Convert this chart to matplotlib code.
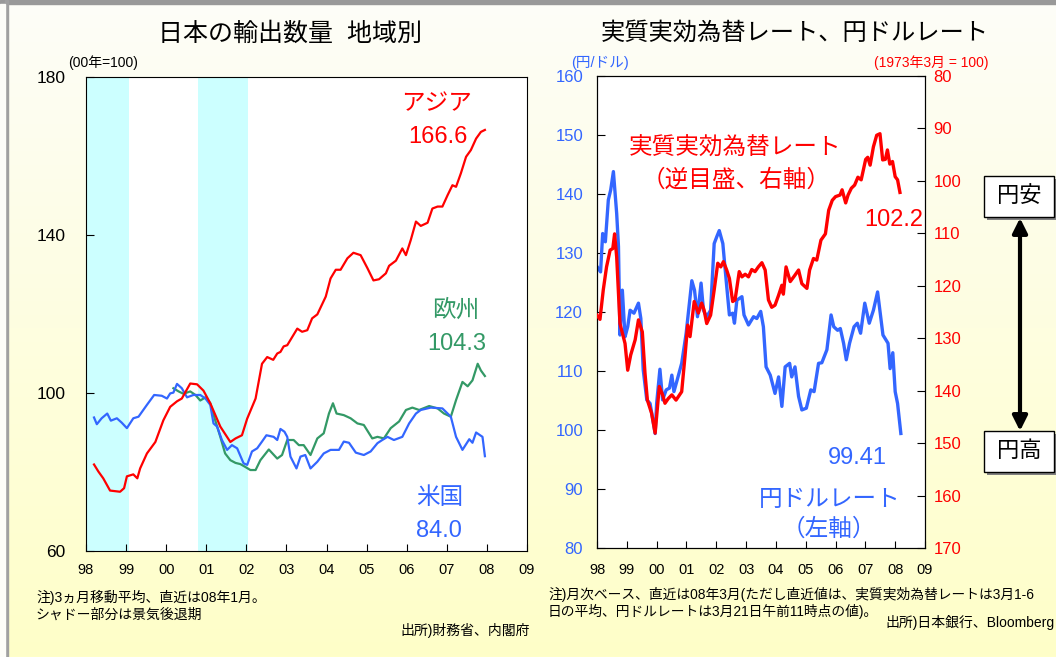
import numpy as np
import matplotlib
matplotlib.use("Agg")
import matplotlib.pyplot as plt
from matplotlib.patches import Rectangle

plt.rcParams['font.family'] = ['Liberation Sans', 'Noto Sans CJK JP', 'DejaVu Sans']

# 左図: 日本の輸出数量 地域別 (00年=100)
asia_t = [1998.20, 1998.31, 1998.43, 1998.60, 1998.85, 1998.95, 1999.02, 1999.18, 1999.28, 1999.35,
          1999.52, 1999.73, 1999.93, 2000.10, 2000.27, 2000.39, 2000.60, 2000.77, 2000.93, 2001.10,
          2001.35, 2001.60, 2001.73, 2001.89, 2002.02, 2002.23, 2002.39, 2002.52, 2002.67, 2002.77,
          2002.85, 2002.93, 2003.02, 2003.27, 2003.39, 2003.52, 2003.64, 2003.77, 2003.98, 2004.10,
          2004.23, 2004.35, 2004.52, 2004.67, 2004.85, 2005.02, 2005.17, 2005.31, 2005.48, 2005.56,
          2005.73, 2005.89, 2005.98, 2006.10, 2006.23, 2006.35, 2006.52, 2006.64, 2006.77, 2006.89,
          2007.02, 2007.14, 2007.23, 2007.35, 2007.48, 2007.60, 2007.73, 2007.85, 2007.95]
asia_v = [81.9, 80.1, 78.4, 75.3, 75.0, 75.9, 78.9, 79.4, 78.4, 80.9,
          84.7, 87.6, 93.1, 96.5, 97.9, 98.6, 102.4, 102.2, 100.6, 97.4,
          91.5, 87.6, 88.5, 89.3, 93.5, 98.6, 107.4, 109.1, 108.4, 110.0,
          110.4, 111.8, 112.1, 116.3, 115.5, 115.9, 118.9, 119.9, 124.4, 129.0,
          131.2, 131.2, 134.1, 135.5, 134.9, 131.6, 128.5, 128.8, 130.3, 132.2,
          133.5, 136.6, 134.9, 138.7, 143.4, 142.3, 143.1, 146.7, 147.2, 147.2,
          150.1, 152.6, 152.2, 155.6, 159.8, 161.5, 164.4, 166.1, 166.6]

us_t = [1998.20, 1998.27, 1998.39, 1998.53, 1998.62, 1998.77, 1998.89, 1999.02, 1999.18, 1999.31,
        1999.52, 1999.70, 1999.89, 2000.02, 2000.10, 2000.18, 2000.27, 2000.39, 2000.52, 2000.68,
        2000.85, 2000.98, 2001.10, 2001.18, 2001.27, 2001.39, 2001.52, 2001.64, 2001.77, 2001.93,
        2002.02, 2002.14, 2002.27, 2002.39, 2002.50, 2002.68, 2002.77, 2002.85, 2002.95, 2003.02,
        2003.10, 2003.25, 2003.35, 2003.47, 2003.60, 2003.77, 2003.93, 2004.10, 2004.31, 2004.43,
        2004.56, 2004.73, 2004.93, 2005.10, 2005.27, 2005.39, 2005.52, 2005.68, 2005.89, 2006.06,
        2006.23, 2006.35, 2006.60, 2006.89, 2007.10, 2007.23, 2007.39, 2007.56, 2007.64, 2007.73,
        2007.89, 2007.95]
us_v = [93.8, 92.1, 93.6, 94.8, 93.0, 93.6, 92.5, 91.1, 93.6, 94.0,
        97.0, 99.5, 99.3, 98.6, 99.9, 100.1, 102.3, 101.2, 98.9, 99.5,
        99.5, 98.6, 97.0, 92.3, 91.5, 88.1, 85.6, 86.8, 86.0, 82.2,
        81.8, 85.2, 86.0, 87.7, 89.3, 88.9, 88.1, 90.9, 90.2, 88.9,
        83.9, 80.9, 83.9, 84.3, 80.9, 82.6, 84.7, 85.6, 85.6, 87.7,
        87.4, 84.9, 84.3, 85.2, 87.3, 88.1, 88.9, 88.1, 88.9, 92.3,
        94.8, 95.7, 96.3, 96.1, 94.0, 88.9, 85.6, 88.3, 87.4, 90.0,
        88.9, 84.0]

eu_t = [2000.18, 2000.31, 2000.43, 2000.60, 2000.73, 2000.85, 2000.98, 2001.10, 2001.22, 2001.35,
        2001.47, 2001.60, 2001.73, 2001.85, 2001.97, 2002.10, 2002.23, 2002.35, 2002.56, 2002.77,
        2002.89, 2003.02, 2003.18, 2003.31, 2003.43, 2003.60, 2003.77, 2003.93, 2004.06, 2004.16,
        2004.25, 2004.43, 2004.60, 2004.77, 2004.93, 2005.14, 2005.27, 2005.43, 2005.60, 2005.81,
        2005.98, 2006.14, 2006.31, 2006.56, 2006.77, 2006.93, 2007.10, 2007.23, 2007.39, 2007.52,
        2007.64, 2007.77, 2007.85, 2007.95]
eu_v = [101.2, 100.4, 99.8, 100.4, 99.5, 98.1, 98.9, 97.4, 93.2, 88.9,
        84.7, 83.0, 82.3, 82.0, 81.3, 80.5, 80.5, 83.0, 85.7, 83.4,
        84.3, 88.1, 88.1, 86.8, 86.8, 84.3, 88.5, 89.8, 94.8, 97.4,
        94.8, 94.4, 93.6, 92.3, 91.9, 88.5, 88.9, 88.5, 91.1, 92.8,
        95.7, 96.3, 95.7, 96.7, 96.1, 94.8, 94.0, 98.2, 102.8, 101.7,
        103.2, 107.4, 105.7, 104.3]

recessions = [(1997.5, 1999.08), (2000.8, 2002.05)]

# 右図: 円ドルレート (左軸) と 実質実効為替レート (右軸, 逆目盛)
usd_t = [1998.00, 1998.12, 1998.19, 1998.28, 1998.38, 1998.46, 1998.55, 1998.66, 1998.72, 1998.77,
         1998.85, 1998.94, 1999.03, 1999.11, 1999.24, 1999.39, 1999.47, 1999.55, 1999.67, 1999.78,
         1999.95, 2000.00, 2000.11, 2000.20, 2000.32, 2000.43, 2000.51, 2000.58, 2000.69, 2000.84,
         2000.99, 2001.18, 2001.27, 2001.37, 2001.49, 2001.57, 2001.68, 2001.81, 2001.93, 2002.02,
         2002.10, 2002.22, 2002.32, 2002.44, 2002.55, 2002.61, 2002.69, 2002.86, 2002.93, 2003.08,
         2003.25, 2003.36, 2003.49, 2003.58, 2003.67, 2003.81, 2003.97, 2004.09, 2004.20, 2004.31,
         2004.46, 2004.53, 2004.64, 2004.76, 2004.87, 2005.02, 2005.17, 2005.28, 2005.43, 2005.54,
         2005.71, 2005.85, 2005.94, 2006.07, 2006.16, 2006.27, 2006.36, 2006.47, 2006.62, 2006.73,
         2006.84, 2006.98, 2007.13, 2007.27, 2007.41, 2007.59, 2007.76, 2007.83, 2007.92, 2008.00,
         2008.08, 2008.19]
usd_v = [127.7, 126.8, 133.3, 131.9, 139.0, 140.7, 143.8, 136.7, 131.1, 116.1,
         123.7, 115.8, 117.5, 120.3, 119.8, 121.5, 118.9, 110.2, 105.1, 104.5,
         99.4, 104.5, 110.3, 105.1, 106.8, 107.1, 109.3, 106.5, 108.5, 111.3,
         116.4, 125.3, 123.7, 119.2, 124.9, 120.3, 119.2, 120.3, 131.6, 132.8,
         133.8, 131.6, 126.0, 119.5, 119.8, 118.1, 122.0, 122.6, 119.5, 117.8,
         119.2, 118.9, 120.1, 117.5, 110.7, 109.3, 106.2, 109.0, 104.0, 110.7,
         111.3, 109.0, 110.7, 105.7, 103.4, 103.7, 106.8, 106.5, 111.3, 111.4,
         113.6, 119.5, 117.5, 116.9, 117.2, 114.7, 111.9, 114.7, 117.5, 118.1,
         116.4, 121.5, 118.1, 120.3, 123.4, 116.1, 114.7, 110.4, 113.1, 106.5,
         104.5, 99.41]

reer_t = [1998.00, 1998.10, 1998.21, 1998.32, 1998.44, 1998.53, 1998.59, 1998.66, 1998.77, 1998.94,
          1999.03, 1999.13, 1999.28, 1999.39, 1999.52, 1999.61, 1999.69, 1999.83, 1999.95, 2000.09,
          2000.20, 2000.28, 2000.39, 2000.51, 2000.65, 2000.84, 2000.95, 2001.04, 2001.12, 2001.26,
          2001.40, 2001.51, 2001.59, 2001.68, 2001.81, 2001.93, 2002.05, 2002.15, 2002.24, 2002.35,
          2002.44, 2002.55, 2002.63, 2002.77, 2002.86, 2002.97, 2003.08, 2003.19, 2003.30, 2003.41,
          2003.53, 2003.64, 2003.75, 2003.86, 2003.97, 2004.09, 2004.20, 2004.25, 2004.34, 2004.48,
          2004.61, 2004.76, 2004.87, 2005.04, 2005.13, 2005.26, 2005.37, 2005.51, 2005.66, 2005.77,
          2005.89, 2006.00, 2006.15, 2006.22, 2006.34, 2006.42, 2006.53, 2006.64, 2006.75, 2006.86,
          2007.01, 2007.08, 2007.16, 2007.27, 2007.38, 2007.49, 2007.58, 2007.67, 2007.74, 2007.82,
          2007.91, 2008.00, 2008.08, 2008.16]
reer_v = [125.6, 126.4, 120.8, 116.4, 113.2, 112.9, 110.1, 114.5, 127.2, 131.0,
          136.1, 133.2, 130.3, 126.5, 128.8, 136.7, 141.8, 144.3, 148.1, 139.2,
          140.8, 142.4, 141.5, 140.8, 141.8, 140.2, 133.5, 127.5, 129.7, 123.0,
          125.2, 123.3, 124.6, 127.2, 125.6, 120.8, 115.7, 116.4, 115.4, 117.0,
          118.6, 123.0, 122.7, 117.3, 118.3, 117.8, 118.3, 116.9, 117.3, 116.4,
          115.6, 117.0, 122.7, 124.1, 123.7, 121.8, 119.9, 121.6, 116.4, 119.2,
          118.2, 117.0, 119.6, 120.5, 117.0, 114.8, 115.1, 111.3, 110.1, 105.6,
          103.7, 103.0, 102.7, 101.7, 104.2, 102.7, 101.4, 100.8, 99.3, 99.8,
          95.9, 95.5, 97.0, 93.5, 91.3, 91.0, 96.0, 95.9, 94.1, 96.8,
          96.3, 99.2, 99.8, 102.2]

years = list(range(1998, 2010))
year_labels = ['98', '99', '00', '01', '02', '03', '04', '05', '06', '07', '08', '09']

RED = '#FF0000'
GREEN = '#339966'
BLUE = '#3366FF'
W, H = 1056, 657

fig = plt.figure(figsize=(W / 100, H / 100), dpi=100)

# 背景 (白→薄い黄色のグラデーション)
bg = fig.add_axes([0, 0, 1, 1], zorder=-5)
top = np.array([253, 253, 248]) / 255
bot = np.array([255, 255, 200]) / 255
f = np.linspace(0, 1, 256)[:, None]
grad = (top * (1 - f) + bot * f)[:, None, :]
bg.imshow(grad, extent=[0, W, H, 0], aspect='auto')
bg.add_patch(Rectangle((0, 0), W, 4, color='#999999'))
bg.add_patch(Rectangle((5, 0), 2.5, H, color='#A0A0A0'))
bg.add_patch(Rectangle((0, 4), 5, H, color='#FDFDF8'))
bg.set_xlim(0, W)
bg.set_ylim(H, 0)
bg.axis('off')


def fpos(x0, y0, x1, y1):
    return [x0 / W, 1 - y1 / H, (x1 - x0) / W, (y1 - y0) / H]


# ---- 左図 ----
ax1 = fig.add_axes(fpos(86, 77, 527, 551))
for a, b in recessions:
    ax1.axvspan(a, b, color='#CCFFFF', lw=0, zorder=0)
ax1.plot(asia_t, asia_v, color=RED, lw=1.6, zorder=3)
ax1.plot(eu_t, eu_v, color=GREEN, lw=1.6, zorder=2)
ax1.plot(us_t, us_v, color=BLUE, lw=1.6, zorder=2)
ax1.set_xlim(1998, 2009)
ax1.set_ylim(60, 180)
ax1.set_yticks([60, 100, 140, 180])
ax1.set_xticks(years)
ax1.set_xticklabels(year_labels)
ax1.tick_params(axis='y', direction='in', length=6, labelsize=12.5, pad=15)
ax1.tick_params(axis='x', direction='in', length=5, labelsize=10.5, pad=9)

# ---- 右図 ----
ax2 = fig.add_axes(fpos(597, 76, 925, 548))
ax2.plot(usd_t, usd_v, color=BLUE, lw=2.4, zorder=2)
ax2.set_xlim(1998, 2009)
ax2.set_ylim(80, 160)
ax2.set_yticks(range(80, 161, 10))
ax2.set_xticks(years)
ax2.set_xticklabels(year_labels)
ax2.tick_params(axis='y', direction='in', length=6, labelsize=12, pad=10, labelcolor=BLUE)
ax2.tick_params(axis='x', direction='in', length=5, labelsize=10.5, pad=11)
ax3 = ax2.twinx()
ax3.plot(reer_t, reer_v, color=RED, lw=2.4, zorder=3)
ax3.set_ylim(170, 80)
ax3.set_yticks(range(80, 171, 10))
ax3.tick_params(axis='y', direction='in', length=6, labelsize=12, pad=6, labelcolor=RED)
ax2.set_zorder(1)
ax3.set_zorder(2)

# ---- 文字 ----
ov = fig.add_axes([0, 0, 1, 1], zorder=10)
ov.set_xlim(0, W)
ov.set_ylim(H, 0)
ov.axis('off')
ov.patch.set_alpha(0)

ov.text(290, 34, '日本の輸出数量  地域別', fontsize=18, ha='center', va='center')
ov.text(795, 33, '実質実効為替レート、円ドルレート', fontsize=17.5, ha='center', va='center')
ov.text(68, 63, '(00年=100)', fontsize=10, ha='left', va='center')
ov.text(571, 63, '(円/ドル)', fontsize=10.5, ha='left', va='center', color=BLUE)
ov.text(988, 63, '(1973年3月 = 100)', fontsize=10, ha='right', va='center', color=RED)

ov.text(437, 104, 'アジア', fontsize=17, ha='center', va='center', color=RED)
ov.text(468, 137, '166.6', fontsize=17, ha='right', va='center', color=RED)
ov.text(456, 311, '欧州', fontsize=17, ha='center', va='center', color=GREEN)
ov.text(457, 344, '104.3', fontsize=17, ha='center', va='center', color=GREEN)
ov.text(440, 498, '米国', fontsize=17, ha='center', va='center', color=BLUE)
ov.text(439, 531, '84.0', fontsize=17, ha='center', va='center', color=BLUE)

ov.text(735, 149, '実質実効為替レート', fontsize=17, ha='center', va='center', color=RED)
ov.text(736, 180, '（逆目盛、右軸）', fontsize=17, ha='center', va='center', color=RED)
ov.text(894, 220, '102.2', fontsize=17, ha='center', va='center', color=RED)
ov.text(857, 458, '99.41', fontsize=17, ha='center', va='center', color=BLUE)
ov.text(830, 500, '円ドルレート', fontsize=17, ha='center', va='center', color=BLUE)
ov.text(829, 530, '（左軸）', fontsize=17, ha='center', va='center', color=BLUE)

# 円安・円高の箱と矢印
for y0, label in [(176, '円安'), (431, '円高')]:
    ov.add_patch(Rectangle((987, y0 + 3), 71, 41, color='#808080', lw=0))
    ov.add_patch(Rectangle((984, y0), 70, 41, fc='white', ec='black', lw=1))
    ov.text(1019, y0 + 20.5, label, fontsize=16, ha='center', va='center')
ov.annotate('', xy=(1020, 218), xytext=(1020, 431),
            arrowprops=dict(arrowstyle='<|-|>', lw=3, color='black',
                            mutation_scale=22, shrinkA=0, shrinkB=0))

# 注・出所
ov.text(36, 597, '注)3ヵ月移動平均、直近は08年1月。', fontsize=10, ha='left', va='center')
ov.text(36, 615, 'シャドー部分は景気後退期', fontsize=10, ha='left', va='center')
ov.text(530, 631, '出所)財務省、内閣府', fontsize=10, ha='right', va='center')
ov.text(548, 594, '注)月次ベース、直近は08年3月(ただし直近値は、実質実効為替レートは3月1-6',
        fontsize=9.9, ha='left', va='center')
ov.text(548, 611, '日の平均、円ドルレートは3月21日午前11時点の値)。', fontsize=9.9, ha='left', va='center')
ov.text(1055, 622, '出所)日本銀行、Bloomberg', fontsize=10, ha='right', va='center')

fig.savefig('out.png', dpi=100)
